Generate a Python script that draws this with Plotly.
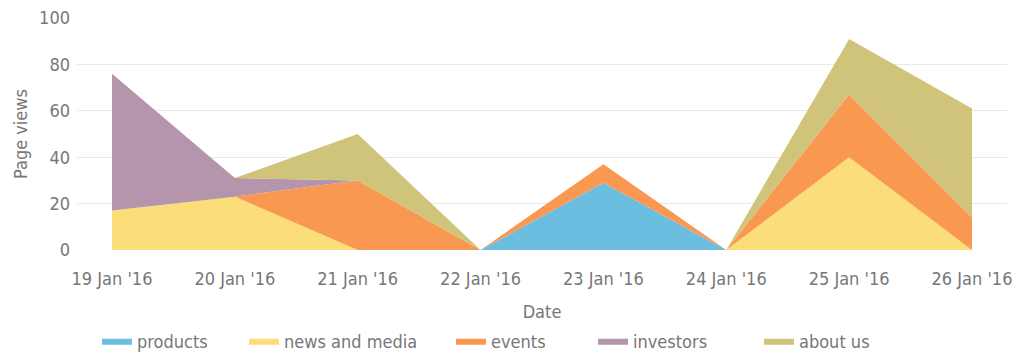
import plotly.graph_objects as go

# Daily page views per site section, stacked
dates = ["19 Jan '16", "20 Jan '16", "21 Jan '16", "22 Jan '16",
         "23 Jan '16", "24 Jan '16", "25 Jan '16", "26 Jan '16"]
products = [0, 0, 0, 0, 29, 0, 0, 0]
news_and_media = [17, 23, 0, 0, 0, 0, 40, 0]
events = [0, 0, 30, 0, 8, 0, 27, 14]
investors = [59, 8, 0, 0, 0, 0, 0, 0]
about_us = [0, 0, 20, 0, 0, 0, 24, 47]

y_ticks = [0, 20, 40, 60, 80, 100]
y_grid = [20, 40, 60, 80]

series = [
    ("products", products, "#6bbee0"),
    ("news and media", news_and_media, "#fbdd79"),
    ("events", events, "#f99850"),
    ("investors", investors, "#b495ac"),
    ("about us", about_us, "#d0c47a"),
]

FONT = "DejaVu Sans Condensed, DejaVu Sans, sans-serif"
GREY = "#777777"
SIZE = 18
W, H = 1018, 354

# left pixel of each legend entry
legend_left = [97, 244, 451, 593, 759]

fig = go.Figure()
for i, (name, vals, color) in enumerate(series):
    lg = "legend" if i == 0 else f"legend{i + 1}"
    fig.add_trace(go.Scatter(
        x=dates, y=vals, name=name, stackgroup="one",
        mode="lines", line=dict(width=0, color=color),
        fillcolor=color, legend=lg,
    ))

layout_legends = {}
for i, px in enumerate(legend_left):
    key = "legend" if i == 0 else f"legend{i + 1}"
    layout_legends[key] = dict(
        orientation="h", xref="container", yref="container",
        x=px / W, y=1 - 341 / H, xanchor="left", yanchor="middle",
        font=dict(family=FONT, size=SIZE, color=GREY),
        bgcolor="rgba(0,0,0,0)", itemclick=False,
    )

fig.update_layout(
    width=W, height=H,
    margin=dict(l=77, r=11, t=18, b=104, autoexpand=False),
    plot_bgcolor="white", paper_bgcolor="white",
    font=dict(family=FONT, size=SIZE, color=GREY),
    showlegend=True,
    xaxis=dict(
        type="category", range=[-0.285, 7.285], automargin=False,
        showgrid=False, zeroline=False, showline=False, ticks="",
        tickfont=dict(family=FONT, size=SIZE, color=GREY),
        ticklabelstandoff=16,
        title=dict(text="Date", font=dict(family=FONT, size=SIZE, color=GREY), standoff=18),
    ),
    yaxis=dict(
        range=[0, 100], tickvals=y_ticks, automargin=False,
        showgrid=False, zeroline=False, showline=False, ticks="",
        minor=dict(tickvals=y_grid, showgrid=True, gridcolor="#e8e8e8",
                   gridwidth=1, ticks=""),
        tickfont=dict(family=FONT, size=SIZE, color=GREY),
        ticklabelstandoff=6,
        title=dict(text="Page views", font=dict(family=FONT, size=SIZE, color=GREY), standoff=6),
    ),
    **layout_legends,
)

fig.write_html("out.html")
